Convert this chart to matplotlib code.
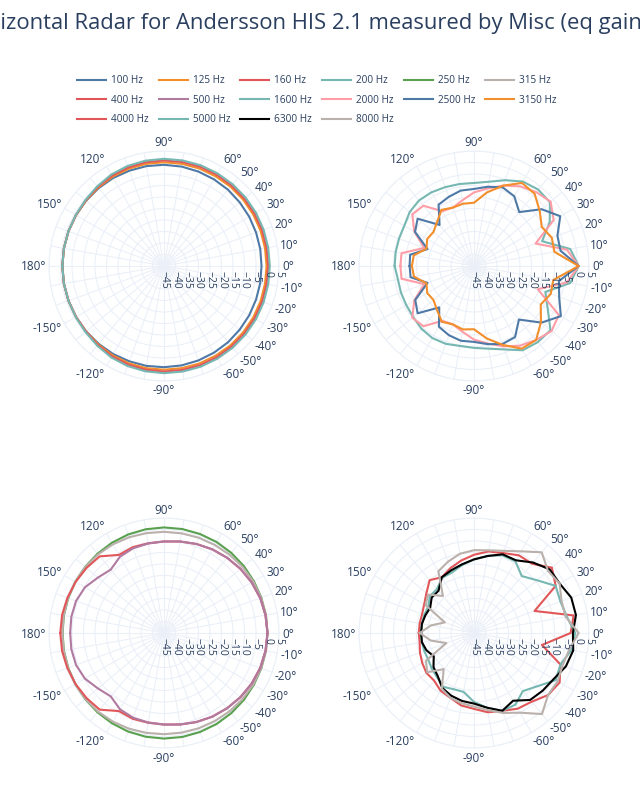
import numpy as np
import matplotlib.pyplot as plt
from matplotlib.transforms import offset_copy

plt.rcParams['font.family'] = ['Open Sans', 'DejaVu Sans']

# angles of the measurements, -180 .. 180 by 10
angles = list(range(-180, 190, 10))

# top left
hz_100 = [-0.8, -0.8, -0.8, -0.8, -0.8, -0.8, -0.8, -0.9, -0.9, -1.0, -1.1, -1.3, -1.5, -1.7, -2.0, -2.2, -2.4, -2.5, -2.6,
          -2.5, -2.4, -2.2, -2.0, -1.7, -1.5, -1.3, -1.1, -1.0, -0.9, -0.9, -0.8, -0.8, -0.8, -0.8, -0.8, -0.8, -0.8]
hz_125 = [-0.8, -0.8, -0.8, -0.8, -0.7, -0.5, -0.2, 0.0, 0.1, 0.1, 0.1, 0.1, 0.0, 0.0, -0.1, -0.2, -0.3, -0.4, -0.4,
          -0.4, -0.3, -0.2, -0.1, 0.0, 0.0, 0.1, 0.1, 0.1, 0.1, 0.0, -0.2, -0.5, -0.7, -0.8, -0.8, -0.8, -0.8]
hz_160 = [-0.8, -0.8, -0.8, -0.8, -0.6, -0.2, 0.3, 0.6, 0.8, 0.9, 0.9, 0.9, 0.8, 0.7, 0.6, 0.5, 0.4, 0.3, 0.3,
          0.3, 0.4, 0.5, 0.6, 0.7, 0.8, 0.9, 0.9, 0.9, 0.8, 0.6, 0.3, -0.2, -0.6, -0.8, -0.8, -0.8, -0.8]
hz_200 = [-0.8, -0.8, -0.8, -0.7, -0.4, 0.2, 0.9, 1.3, 1.5, 1.6, 1.6, 1.6, 1.5, 1.4, 1.3, 1.2, 1.1, 1.0, 1.0,
          1.0, 1.1, 1.2, 1.3, 1.4, 1.5, 1.6, 1.6, 1.6, 1.5, 1.3, 0.9, 0.2, -0.4, -0.7, -0.8, -0.8, -0.8]

# bottom left
hz_250 = [-0.9, -0.8, -0.7, -0.5, -0.3, 0.0, 0.3, 0.6, 0.8, 0.9, 0.9, 0.8, 0.7, 0.5, 0.3, 0.1, 0.0, 0.0, 0.0,
          0.0, 0.0, 0.1, 0.3, 0.5, 0.7, 0.8, 0.9, 0.9, 0.8, 0.6, 0.3, 0.0, -0.3, -0.5, -0.7, -0.8, -0.9]
hz_315 = [-0.8, -0.7, -0.6, -0.5, -0.4, -0.4, -0.5, -0.7, -0.9, -1.0, -1.0, -0.9, -0.8, -0.6, -0.4, -0.2, -0.1, 0.0, 0.0,
          0.0, -0.1, -0.2, -0.4, -0.6, -0.8, -0.9, -1.0, -1.0, -0.9, -0.7, -0.5, -0.4, -0.4, -0.5, -0.6, -0.7, -0.8]
hz_400 = [0.1, 0.0, -0.3, -0.6, -1.0, -1.5, -5.8, -5.3, -5.4, -5.2, -4.6, -3.8, -3.0, -2.3, -1.6, -1.0, -0.5, -0.2, 0.0,
          -0.2, -0.5, -1.0, -1.6, -2.3, -3.0, -3.8, -4.6, -5.2, -5.4, -5.3, -5.8, -1.5, -1.0, -0.6, -0.3, 0.0, 0.1]
hz_500 = [-4.2, -4.1, -4.3, -5.3, -7.5, -9.0, -6.7, -5.8, -5.5, -5.2, -4.6, -3.8, -3.0, -2.3, -1.6, -1.0, -0.5, -0.2, 0.0,
          -0.2, -0.5, -1.0, -1.6, -2.3, -3.0, -3.8, -4.6, -5.2, -5.5, -5.8, -6.7, -9.0, -7.5, -5.3, -4.3, -4.1, -4.2]

# top right
hz_1600 = [-10.5, -11.4, -11.2, -11.0, -10.5, -9.4, -8.8, -9.0, -9.7, -9.4, -8.5, -6.4, -2.7, -1.8, -1.6, -8.0, -12.0, -2.5, 0.5,
           -2.5, -13.5, -7.0, -1.9, -1.6, -2.6, -5.3, -7.8, -8.9, -8.8, -8.5, -8.0, -7.8, -8.5, -10.0, -10.3, -10.4, -10.5]
hz_2000 = [-13.0, -13.0, -22.0, -15.0, -10.0, -10.8, -17.5, -18.0, -16.0, -13.0, -10.8, -7.8, -5.0, -3.0, -1.0, -2.4, -15.5, -4.0, 0.5,
           -4.0, -16.5, -5.0, -1.5, -3.0, -5.0, -7.8, -10.8, -13.0, -16.0, -18.0, -17.5, -10.8, -10.0, -15.0, -22.0, -13.0, -13.0]
hz_2500 = [-17.0, -17.0, -23.5, -15.5, -13.0, -21.5, -14.5, -13.0, -12.0, -12.0, -10.5, -8.9, -9.3, -14.6, -6.7, -1.4, -5.6, -7.5, 0.5,
           -6.8, -6.4, -1.7, -6.6, -14.4, -10.0, -8.6, -10.0, -11.5, -11.7, -13.0, -14.2, -21.7, -13.0, -15.4, -23.5, -16.8, -17.0]
hz_3150 = [-18.0, -18.5, -23.0, -21.5, -22.0, -20.0, -17.0, -18.0, -17.0, -17.5, -13.0, -8.5, -3.5, -3.0, -7.0, -11.5, -9.5, -10.0, 0.5,
           -9.5, -9.0, -11.0, -7.7, -4.0, -3.3, -7.8, -12.5, -17.5, -17.5, -18.0, -16.8, -20.0, -22.0, -21.5, -23.0, -18.4, -18.0]

# bottom right
hz_4000 = [-21.0, -21.0, -20.0, -19.0, -18.0, -18.0, -16.0, -15.0, -13.0, -12.0, -10.0, -9.0, -7.0, -6.0, -3.0, -2.0, -5.0, -15.0, -3.0,
           -1.0, -17.0, -4.0, -0.8, -5.7, -6.0, -8.0, -9.0, -11.0, -13.0, -15.0, -17.0, -15.0, -18.0, -20.0, -21.0, -21.0, -21.0]
hz_5000 = [-22.0, -22.0, -22.0, -22.0, -21.0, -20.0, -18.0, -19.0, -19.0, -15.0, -12.0, -9.0, -9.0, -12.0, -9.0, -4.0, -5.0, -2.0, -1.0,
           -4.0, -5.0, -4.0, -9.3, -12.7, -9.0, -9.0, -11.0, -13.0, -15.0, -17.0, -17.3, -20.0, -20.0, -22.0, -22.0, -22.0, -22.0]
hz_6300 = [-22.0, -22.0, -23.0, -24.8, -22.0, -20.5, -17.4, -16.0, -15.0, -14.3, -12.0, -9.0, -11.0, -7.0, -6.0, -5.0, -2.5, -1.2, -2.0,
           0.0, 0.0, -2.0, -2.0, -5.0, -8.5, -8.6, -11.0, -13.0, -14.7, -16.0, -17.0, -21.0, -21.0, -23.0, -22.5, -22.0, -22.0]
hz_8000 = [-21.4, -26.0, -32.2, -20.9, -18.4, -24.5, -17.0, -15.0, -14.0, -13.0, -11.0, -8.0, -5.0, 1.0, -3.0, -3.0, -4.0, -3.0, 0.5,
           -4.5, -4.5, -2.0, -3.0, 0.8, -4.0, -7.0, -8.5, -9.0, -10.0, -12.0, -14.0, -24.0, -19.0, -20.7, -31.5, -26.0, -21.4]

labels = ['100 Hz', '125 Hz', '160 Hz', '200 Hz', '250 Hz', '315 Hz', '400 Hz', '500 Hz',
          '1600 Hz', '2000 Hz', '2500 Hz', '3150 Hz', '4000 Hz', '5000 Hz', '6300 Hz', '8000 Hz']
series = [hz_100, hz_125, hz_160, hz_200, hz_250, hz_315, hz_400, hz_500,
          hz_1600, hz_2000, hz_2500, hz_3150, hz_4000, hz_5000, hz_6300, hz_8000]
colors = ['#4e79a7', '#f28e2b', '#e15759', '#76b7b2', '#59a14f', '#bab0ac', '#e15759', '#b07aa1',
          '#76b7b2', '#ff9da7', '#4e79a7', '#f28e2b', '#e15759', '#76b7b2', '#000000', '#bab0ac']
# which traces go to: top left, top right, bottom left, bottom right
panels = [(0, 4), (8, 12), (4, 8), (12, 16)]

shown = [0, 10, 20, 30, 40, 50, 60, 90, 120, 150, 180, -150, -120, -90, -60, -50, -40, -30, -20, -10]
txt = '#2a3f5f'
grid = '#ebf0f8'

fig = plt.figure(figsize=(6.4, 8), dpi=100)
W, H = 640, 800
R = 115
centers = [(164, 266), (474, 266), (164, 633), (474, 633)]

theta = np.radians(angles)
handles = [None] * len(labels)
for (cx, cy), (i0, i1) in zip(centers, panels):
    ax = fig.add_axes([(cx - R) / W, (H - cy - R) / H, 2 * R / W, 2 * R / H], projection='polar')
    for i in range(i0, i1):
        line, = ax.plot(theta, series[i], color=colors[i], lw=1.5, label=labels[i])
        handles[i] = line
    ax.set_ylim(-45, 5)
    ax.set_yticks(range(-45, 6, 5))
    ax.set_yticklabels([])
    ax.set_xticks(np.radians(range(0, 360, 10)))
    ax.set_xticklabels([])
    ax.grid(color=grid, lw=0.8)
    ax.spines['polar'].set_color(grid)
    ax.set_axisbelow(True)

    # angle labels, anchored by their edge like plotly does
    for d in shown:
        c, s = np.cos(np.radians(d)), np.sin(np.radians(d))
        ha = 'left' if c > 0.01 else ('right' if c < -0.01 else 'center')
        tr = offset_copy(ax.transData, fig=fig, x=3 * c, y=3 * s + 6 * s - 1, units='dots')
        ax.text(np.radians(d), 5, f'{d}°', ha=ha, va='center', fontsize=8.5, color=txt, transform=tr)

    # radial labels, rotated, under the 0° spoke
    tr = offset_copy(ax.transData, fig=fig, y=-5, units='dots')
    for v in range(-45, 6, 5):
        ax.text(0, v, str(v).replace('-', '\u2212'), rotation=-90, ha='center', va='top',
                fontsize=7.5, color=txt, transform=tr)

fig.text(-38 / W, 1 - 23 / H, 'Horizontal Radar for Andersson HIS 2.1 measured by Misc (eq gain)',
         ha='left', va='center', fontsize=15.8, color=txt)

# plotly fills the legend row by row, matplotlib column by column
order = []
for c in range(6):
    for r in range(3):
        k = r * 6 + c
        if k < len(labels):
            order.append(k)
fig.legend([handles[k] for k in order], [labels[k] for k in order], ncol=6,
           loc='upper left', bbox_to_anchor=(77 / W, 1 - 75 / H), frameon=False,
           fontsize=7.2, labelcolor=txt, handlelength=2.9, handletextpad=0.5,
           columnspacing=1.0, labelspacing=0.86, borderpad=0, borderaxespad=0)

fig.savefig('out.png', dpi=100)
